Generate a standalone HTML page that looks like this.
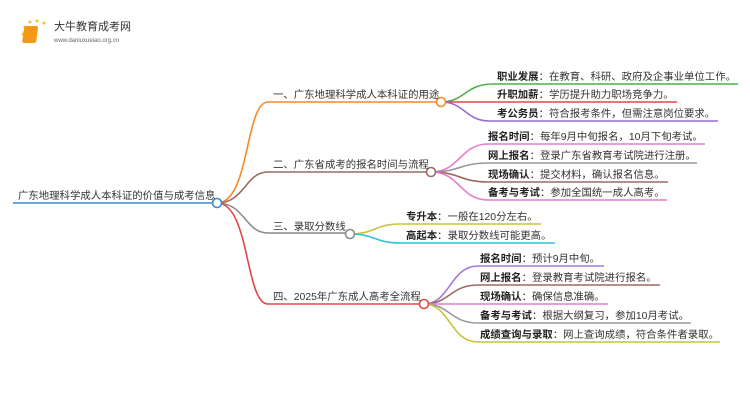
<!DOCTYPE html><html><head><meta charset="utf-8"><style>
body{margin:0;width:750px;height:410px;background:#fff;overflow:hidden}
text{font-family:"Liberation Sans","Noto Sans CJK SC",sans-serif;font-size:10.4px;fill:#333}
.b{font-weight:bold;fill:#222}
</style></head><body>
<svg width="750" height="410" viewBox="0 0 750 410">
<g fill="none" stroke-width="1.6">
<path d="M13 203H217" stroke="#3d8bd0"/>
<path d="M217 203C250 203 245 102 268 102H441" stroke="#f5882a"/>
<path d="M217 203C245 203 245 172 268 172H431" stroke="#9a6b60"/>
<path d="M217 203C245 203 245 233 268 233H350" stroke="#8a8a8a"/>
<path d="M217 203C250 203 245 304 268 304H424" stroke="#e04848"/>
<path d="M441 102C465 102 465 84 493 84H738" stroke="#4cb048"/>
<path d="M441 102H677" stroke="#e04848"/>
<path d="M441 102C465 102 465 121 490 121H718" stroke="#9b6ad0"/>
<path d="M431 172C460 172 460 144 488 144H705" stroke="#e77bcf"/>
<path d="M431 172C460 172 460 163 488 163H697" stroke="#999"/>
<path d="M431 172C460 172 460 182 488 182H668" stroke="#9a6b60"/>
<path d="M431 172C460 172 460 200 488 200H667" stroke="#e77bcf"/>
<path d="M350 234C375 234 375 224 400 224H541" stroke="#c8c43a"/>
<path d="M350 234C375 234 375 243 400 243H555" stroke="#33c2d6"/>
<path d="M424 304C450 304 450 266 478 266H604" stroke="#a679d8"/>
<path d="M424 304C450 304 450 285 478 285H660" stroke="#9a6b60"/>
<path d="M424 304H608" stroke="#e77bcf"/>
<path d="M424 304C450 304 450 323 478 323H691" stroke="#999"/>
<path d="M424 304C450 304 450 342 478 342H720" stroke="#c8c43a"/>
</g>
<g fill="#fff" stroke-width="1.6">
<circle cx="217" cy="203" r="4.5" stroke="#3d8bd0"/>
<circle cx="441" cy="102" r="4.5" stroke="#f5882a"/>
<circle cx="431" cy="172" r="4.5" stroke="#9a6b60"/>
<circle cx="350" cy="234" r="4.5" stroke="#8a8a8a"/>
<circle cx="424" cy="304" r="4.5" stroke="#e04848"/>
</g>
<text x="18" y="199">广东地理科学成人本科证的价值与成考信息</text>
<text x="273" y="98">一、广东地理科学成人本科证的用途</text>
<text x="273" y="168">二、广东省成考的报名时间与流程</text>
<text x="273" y="230">三、录取分数线</text>
<text x="273" y="300">四、2025年广东成人高考全流程</text>
<text x="497" y="80"><tspan class="b">职业发展</tspan>：在教育、科研、政府及企事业单位工作。</text>
<text x="497" y="98"><tspan class="b">升职加薪</tspan>：学历提升助力职场竞争力。</text>
<text x="497" y="117"><tspan class="b">考公务员</tspan>：符合报考条件，但需注意岗位要求。</text>
<text x="488" y="140"><tspan class="b">报名时间</tspan>：每年9月中旬报名，10月下旬考试。</text>
<text x="488" y="159"><tspan class="b">网上报名</tspan>：登录广东省教育考试院进行注册。</text>
<text x="488" y="178"><tspan class="b">现场确认</tspan>：提交材料，确认报名信息。</text>
<text x="488" y="196"><tspan class="b">备考与考试</tspan>：参加全国统一成人高考。</text>
<text x="406" y="220"><tspan class="b">专升本</tspan>：一般在120分左右。</text>
<text x="406" y="239"><tspan class="b">高起本</tspan>：录取分数线可能更高。</text>
<text x="480" y="262"><tspan class="b">报名时间</tspan>：预计9月中旬。</text>
<text x="480" y="281"><tspan class="b">网上报名</tspan>：登录教育考试院进行报名。</text>
<text x="480" y="300"><tspan class="b">现场确认</tspan>：确保信息准确。</text>
<text x="480" y="319"><tspan class="b">备考与考试</tspan>：根据大纲复习，参加10月考试。</text>
<text x="480" y="338"><tspan class="b">成绩查询与录取</tspan>：网上查询成绩，符合条件者录取。</text>
<g fill="#f7c23a"><circle cx="25" cy="27" r="1.5"/><circle cx="30" cy="22" r="1.5"/><circle cx="37" cy="21" r="1.5"/><circle cx="44" cy="23" r="1.5"/><circle cx="23" cy="34" r="1.5"/></g>
<rect x="28" y="26" width="14" height="17" rx="2" fill="#f29a18" transform="skewX(-8)"/>
<text x="54" y="30" style="font-size:11px;fill:#333">大牛教育成考网</text>
<text x="54" y="42" style="font-size:6px;fill:#666">www.daniuxueiao.org.cn</text>
</svg>
</body></html>
